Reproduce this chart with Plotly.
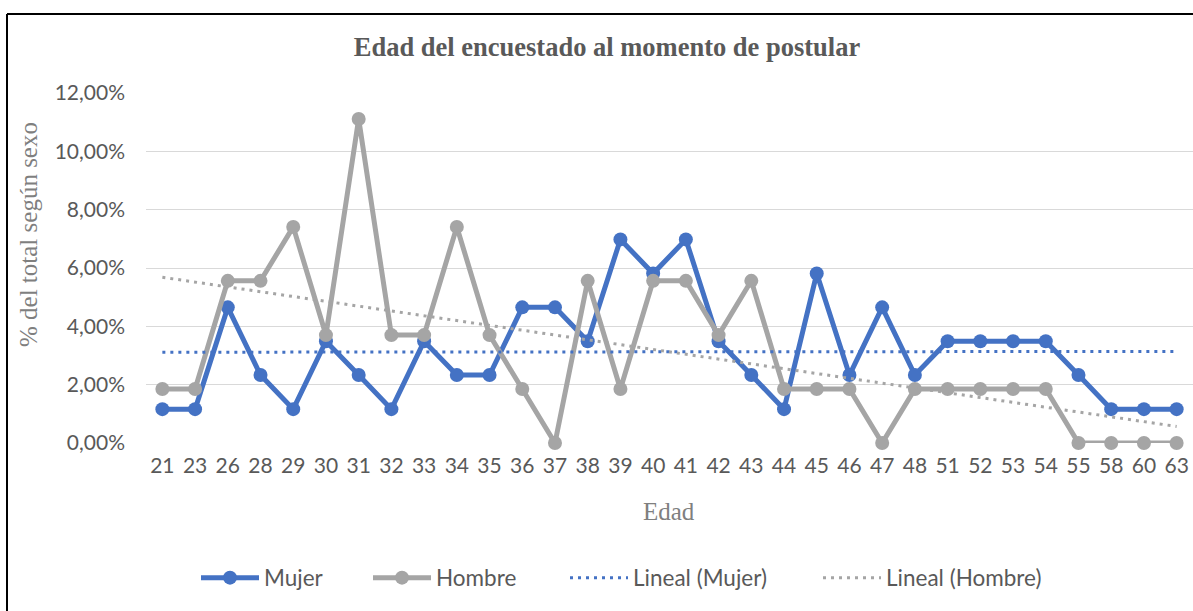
import numpy as np
import plotly.graph_objects as go

edad = ["21", "23", "26", "28", "29", "30", "31", "32", "33", "34", "35", "36", "37", "38", "39", "40",
        "41", "42", "43", "44", "45", "46", "47", "48", "51", "52", "53", "54", "55", "58", "60", "63"]
mujer = [1.16, 1.16, 4.65, 2.33, 1.16, 3.49, 2.33, 1.16, 3.49, 2.33, 2.33, 4.65, 4.65, 3.49, 6.98, 5.81,
         6.98, 3.49, 2.33, 1.16, 5.81, 2.33, 4.65, 2.33, 3.49, 3.49, 3.49, 3.49, 2.33, 1.16, 1.16, 1.16]
hombre = [1.85, 1.85, 5.56, 5.56, 7.41, 3.70, 11.11, 3.70, 3.70, 7.41, 3.70, 1.85, 0.00, 5.56, 1.85, 5.56,
          5.56, 3.70, 5.56, 1.85, 1.85, 1.85, 0.00, 1.85, 1.85, 1.85, 1.85, 1.85, 0.00, 0.00, 0.00, 0.00]
y_ticks = [0, 2, 4, 6, 8, 10, 12]
y_tick_labels = ["0,00%", "2,00%", "4,00%", "6,00%", "8,00%", "10,00%", "12,00%"]

idx = np.arange(1, len(edad) + 1)
trend_m = np.polyval(np.polyfit(idx, mujer, 1), idx)
trend_h = np.polyval(np.polyfit(idx, hombre, 1), idx)

BLUE = "#4472C4"
GREY = "#A5A5A5"
TXT = "#595959"
SANS = "Lato, 'Open Sans', sans-serif"
SERIF = "'Liberation Serif', 'DejaVu Serif', serif"

fig = go.Figure()
fig.add_trace(go.Scatter(x=edad, y=mujer, name="Mujer", mode="lines+markers", legend="legend",
                         line=dict(color=BLUE, width=5), marker=dict(color=BLUE, size=14),
                         cliponaxis=False))
fig.add_trace(go.Scatter(x=edad, y=hombre, name="Hombre", mode="lines+markers", legend="legend2",
                         line=dict(color=GREY, width=5), marker=dict(color=GREY, size=14),
                         cliponaxis=False))
fig.add_trace(go.Scatter(x=edad, y=trend_m, name="Lineal (Mujer)", mode="lines", legend="legend3",
                         line=dict(color=BLUE, width=3, dash="3px,5px"), cliponaxis=False))
fig.add_trace(go.Scatter(x=edad, y=trend_h, name="Lineal (Hombre)", mode="lines", legend="legend4",
                         line=dict(color=GREY, width=3, dash="3px,5px"), cliponaxis=False))

L, T, B, R = 146, 93, 168, 0
W, H = 1193, 611
pw, ph = W - L - R, H - T - B

def px_x(p):
    return (p - L) / pw

def px_y(p):
    return (H - B - p) / ph

def leg(xpx):
    return dict(orientation="h", xref="container", x=xpx / W, xanchor="left",
                y=px_y(578), yanchor="middle",
                font=dict(family=SANS, size=22.5, color=TXT),
                itemwidth=58, bgcolor="rgba(0,0,0,0)")

fig.update_layout(
    width=W, height=H,
    margin=dict(l=L, r=R, t=T, b=B, autoexpand=False),
    paper_bgcolor="white", plot_bgcolor="white",
    title=dict(text="<b>Edad del encuestado al momento de postular</b>",
               font=dict(family=SERIF, size=26.5, color=TXT),
               x=607 / W, xanchor="center", xref="container",
               y=1 - 47 / H, yanchor="middle", yref="container"),
    xaxis=dict(type="category", range=[-0.5, len(edad) - 0.5], showgrid=False,
               showline=False, ticks="", zeroline=False, ticklabelstandoff=8,
               tickfont=dict(family=SANS, size=21, color=TXT)),
    yaxis=dict(range=[0, 12], tickvals=y_ticks, ticktext=y_tick_labels,
               showgrid=True, gridcolor="#D9D9D9", gridwidth=1.3, zeroline=False,
               showline=False, ticks="", ticklabelstandoff=20,
               tickfont=dict(family=SANS, size=21, color=TXT)),
    legend=leg(196), legend2=leg(368), legend3=leg(565), legend4=leg(818),
    showlegend=True,
)

fig.add_annotation(text="Edad", xref="paper", yref="paper", x=px_x(669), y=px_y(511),
                   showarrow=False, font=dict(family=SERIF, size=25, color="#7F7F7F"),
                   xanchor="center", yanchor="middle")
fig.add_annotation(text="% del total según sexo", xref="paper", yref="paper",
                   x=px_x(28), y=px_y(235), textangle=-90, showarrow=False,
                   font=dict(family=SERIF, size=25, color="#7F7F7F"),
                   xanchor="center", yanchor="middle")

fig.add_shape(type="line", xref="paper", yref="paper", x0=px_x(7), x1=px_x(1300),
              y0=px_y(14), y1=px_y(14), line=dict(color="black", width=2))
fig.add_shape(type="line", xref="paper", yref="paper", x0=px_x(7), x1=px_x(7),
              y0=px_y(14), y1=px_y(700), line=dict(color="black", width=2))

fig.write_html("out.html", config={"displayModeBar": False},
               post_script="document.body.style.margin='0';")
